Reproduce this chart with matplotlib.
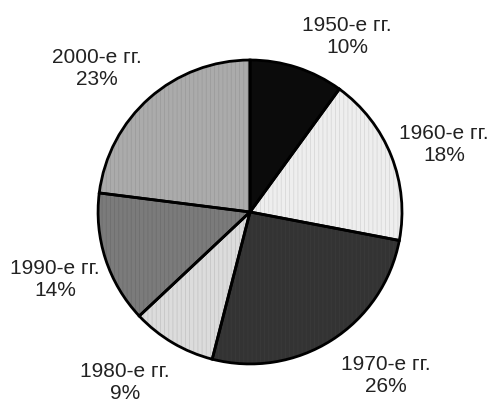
import matplotlib
matplotlib.use("Agg")
import matplotlib.pyplot as plt

# share of items by decade
decades = ["1950-е гг.", "1960-е гг.", "1970-е гг.", "1980-е гг.", "1990-е гг.", "2000-е гг."]
shares = [10, 18, 26, 9, 14, 23]

fills = ["#0b0b0b", "#eeeeee", "#333333", "#dcdcdc", "#7b7b7b", "#ababab"]
stripes = ["#0b0b0b", "#d8d8d8", "#3a3a3a", "#c6c6c6", "#6e6e6e", "#9c9c9c"]
# label anchors in pie units (radius = 1)
label_xy = [(0.638, 1.158), (1.276, 0.441), (0.895, -1.079),
            (-0.822, -1.125), (-1.283, -0.444), (-1.007, 0.947)]

plt.rcParams["font.family"] = ["Liberation Sans", "DejaVu Sans"]
plt.rcParams["hatch.linewidth"] = 0.6

fig = plt.figure(figsize=(4.92, 4.03), dpi=100)
ax = fig.add_axes([0, 0, 1, 1])

# filled wedges with faint vertical hatching
wedges, _ = ax.pie(shares, startangle=90, counterclock=False, colors=fills,
                   wedgeprops=dict(linewidth=0))
for w, sc in zip(wedges, stripes):
    w.set_hatch("||||")
    w.set_edgecolor(sc)

# black outlines on top
ax.pie(shares, startangle=90, counterclock=False,
       wedgeprops=dict(facecolor="none", edgecolor="black", linewidth=2))

for name, val, (x, y) in zip(decades, shares, label_xy):
    ax.text(x, y, f"{name}\n{val}%", ha="center", va="center",
            fontsize=15, color="#222222", linespacing=1.2)

ax.set_xlim(-1.645, 1.592)
ax.set_ylim(-1.257, 1.395)
ax.set_aspect("equal")
ax.axis("off")

fig.savefig("out.png", dpi=100, facecolor="white")
